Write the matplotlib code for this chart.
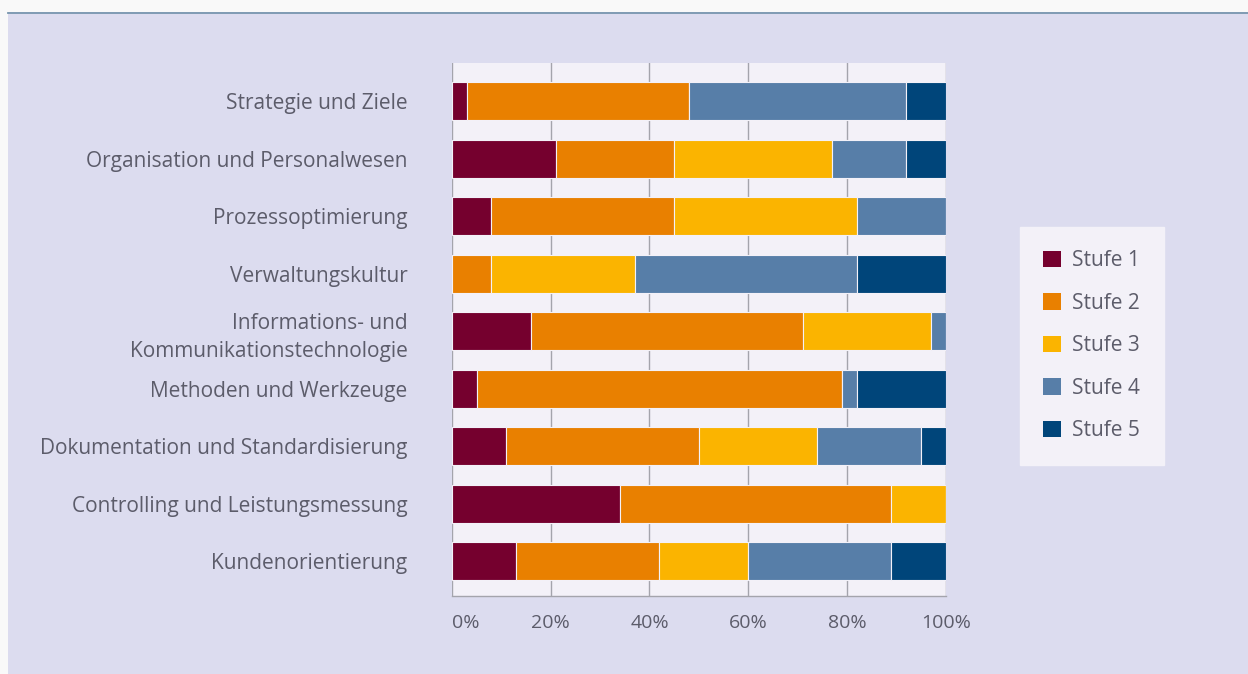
import matplotlib
matplotlib.use("Agg")
import matplotlib.pyplot as plt
import numpy as np
from matplotlib.patches import Patch

categories = [
    "Strategie und Ziele",
    "Organisation und Personalwesen",
    "Prozessoptimierung",
    "Verwaltungskultur",
    "Informations- und\nKommunikationstechnologie",
    "Methoden und Werkzeuge",
    "Dokumentation und Standardisierung",
    "Controlling und Leistungsmessung",
    "Kundenorientierung",
]
stufe1 = [3, 21, 8, 0, 16, 5, 11, 34, 13]
stufe2 = [45, 24, 37, 8, 55, 74, 39, 55, 29]
stufe3 = [0, 32, 37, 29, 26, 0, 24, 11, 18]
stufe4 = [44, 15, 18, 45, 3, 3, 21, 0, 29]
stufe5 = [8, 8, 0, 18, 0, 18, 5, 0, 11]
series_names = ["Stufe 1", "Stufe 2", "Stufe 3", "Stufe 4", "Stufe 5"]
x_ticks = [0, 20, 40, 60, 80, 100]

colors = ["#75002e", "#e98000", "#fbb400", "#577ea8", "#00457a"]
panel_bg = "#dcdcef"
plot_bg = "#f3f1f8"
text_col = "#5c5c6a"

plt.rcParams["font.family"] = ["Open Sans", "DejaVu Sans"]

fig = plt.figure(figsize=(12.48, 6.74), dpi=100, facecolor="#f9f9f9")
# lavender panel with a thin rule on top
panel = fig.add_axes([8 / 1248, 0, 1 - 8 / 1248, 1 - 12 / 674])
panel.set_facecolor(panel_bg)
panel.set_xticks([]); panel.set_yticks([])
for s in panel.spines.values():
    s.set_visible(False)
fig.add_artist(plt.Line2D([8 / 1248, 1], [1 - 12.5 / 674] * 2, color="#7896ae",
                          lw=1.3, transform=fig.transFigure))

ax = fig.add_axes([452 / 1248, 1 - 596 / 674, (945.7 - 452) / 1248, (596 - 63) / 674])
ax.set_facecolor(plot_bg)

y = np.arange(len(categories))
left = np.zeros(len(categories))
for vals, col in zip([stufe1, stufe2, stufe3, stufe4, stufe5], colors):
    vals = np.array(vals, dtype=float)
    ax.barh(y, vals, left=left, height=0.66, color=col, edgecolor=plot_bg,
            linewidth=0.8, zorder=3)
    left += vals

ax.set_xlim(0, 100)
ax.set_ylim(8.6, -0.66)
ax.set_yticks(y)
ax.set_yticklabels(categories, fontsize=15, color=text_col, linespacing=1.45)
ax.set_xticks(x_ticks)
xlabels = ax.set_xticklabels([f"{t}%" for t in x_ticks], fontsize=14, color=text_col)
xlabels[0].set_horizontalalignment("left")
ax.tick_params(axis="both", length=0)
ax.tick_params(axis="y", pad=32)
ax.tick_params(axis="x", pad=13)
ax.grid(axis="x", color="#a4a4ac", lw=1.0, zorder=1)
for side in ["top", "right", "left"]:
    ax.spines[side].set_visible(False)
ax.spines["bottom"].set_color("#a4a4ac")
ax.spines["bottom"].set_linewidth(1.0)

handles = [Patch(facecolor=c, edgecolor="none") for c in colors]
leg = fig.legend(handles, series_names, loc="upper left",
                 bbox_to_anchor=(1020 / 1248, 1 - 227 / 674),
                 frameon=True, fontsize=15, labelcolor=text_col,
                 handlelength=0.85, handleheight=0.85, handletextpad=0.55,
                 labelspacing=1.03, borderpad=1.12, borderaxespad=0,
                 fancybox=False)
leg.get_frame().set_facecolor(plot_bg)
leg.get_frame().set_edgecolor(plot_bg)
leg.get_frame().set_alpha(1)

fig.savefig("out.png", dpi=100, facecolor=fig.get_facecolor())
